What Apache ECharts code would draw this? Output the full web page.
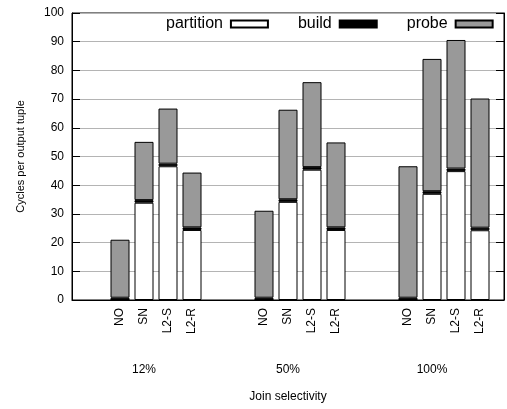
<!DOCTYPE html>
<html>
<head>
<meta charset="utf-8">
<script src="https://cdn.jsdelivr.net/npm/echarts@6/dist/echarts.min.js"></script>
<style>
  html, body { margin: 0; padding: 0; background: #fff; }
  #chart { width: 507px; height: 409px; }
</style>
</head>
<body>
<div id="chart"></div>
<script>
// Join strategies shown in each selectivity group
const strategies = ['NO', 'SN', 'L2-S', 'L2-R'];
const selectivities = ['12%', '50%', '100%'];

// Cycles per output tuple, one entry per (selectivity, strategy)
const partitionCycles = [0, 33.9, 46.6, 24.4,   0, 34.2, 45.4, 24.4,   0, 37.0, 44.9, 24.3];
const buildCycles     = [0.8, 0.9, 0.9, 0.9,    0.8, 0.9, 0.9, 0.9,    0.8, 0.9, 0.9, 0.9];
const probeCycles     = [20.2, 20.3, 19.2, 19.1, 30.3, 31.2, 29.6, 29.6, 45.8, 46.1, 44.8, 45.0];

const yTicks = [0, 10, 20, 30, 40, 50, 60, 70, 80, 90, 100];

// The x axis is a row of slots: 2 leading empty slots, then per group
// 4 bars followed by a 2-slot gap (the last gap is cut to 1 slot).
const LEAD = 2, GAP = 2;
const SLOTS_PER_GROUP = strategies.length + GAP;
const slotCount = LEAD + selectivities.length * SLOTS_PER_GROUP - 1;
const slotOf = (i) => LEAD + Math.floor(i / strategies.length) * SLOTS_PER_GROUP + (i % strategies.length);

const slotNames = new Array(slotCount).fill('');
const groupNames = new Array(slotCount).fill('');
selectivities.forEach((sel, g) => {
  strategies.forEach((s, c) => { slotNames[slotOf(g * strategies.length + c)] = s; });
  groupNames[slotOf(g * strategies.length) + 1] = sel;
});
const slotKeys = slotNames.map((_, i) => 'slot' + i);

const toSlots = (vals) => {
  const out = new Array(slotCount).fill('-');
  vals.forEach((v, i) => { out[slotOf(i)] = v; });
  return out;
};

const FONT = 'Liberation Sans, Arial, sans-serif';
const edge = { borderColor: '#000', borderWidth: 1 };

const chart = echarts.init(document.getElementById('chart'), null, { renderer: 'canvas' });

chart.setOption({
  animation: false,
  backgroundColor: '#fff',
  textStyle: { fontFamily: FONT, color: '#000' },
  grid: {
    left: 72, top: 13, bottom: 109, right: -6,
    show: true, borderColor: '#000', borderWidth: 1, backgroundColor: 'transparent'
  },
  legend: {
    data: ['partition', 'build', 'probe'],
    left: 161, top: 11,
    align: 'right',
    icon: 'rect',
    itemWidth: 37, itemHeight: 7,
    itemGap: 29,
    textStyle: { fontFamily: FONT, fontSize: 16, color: '#000', padding: [0, 3, 0, 0] }
  },
  xAxis: [
    {
      type: 'category',
      data: slotKeys,
      boundaryGap: false,
      axisLine: { lineStyle: { color: '#000', width: 1 } },
      axisTick: { show: false },
      splitLine: { show: false },
      axisLabel: {
        interval: 0, rotate: 90, margin: 8, fontSize: 12, color: '#000', fontFamily: FONT,
        formatter: (v, i) => slotNames[i]
      }
    },
    {
      type: 'category',
      data: slotKeys,
      boundaryGap: false,
      position: 'bottom',
      axisLine: { show: false },
      axisTick: { show: false },
      splitLine: { show: false },
      axisLabel: {
        interval: 0, margin: 64, fontSize: 12, color: '#000', fontFamily: FONT,
        formatter: (v, i) => groupNames[i]
      },
      name: 'Join selectivity',
      nameLocation: 'middle',
      nameGap: 91,
      nameTextStyle: { fontSize: 12, color: '#000', fontFamily: FONT }
    }
  ],
  yAxis: [
    {
      type: 'value',
      min: yTicks[0], max: yTicks[yTicks.length - 1], interval: yTicks[1] - yTicks[0],
      axisLine: { show: true, onZero: false, lineStyle: { color: '#000', width: 1 } },
      axisTick: { show: true, inside: true, length: 8, lineStyle: { color: '#000' } },
      splitLine: { show: true, lineStyle: { color: '#b4b4b4', width: 1 } },
      axisLabel: { margin: 8, fontSize: 12, color: '#000', fontFamily: FONT },
      name: 'Cycles per output tuple',
      nameLocation: 'middle',
      nameGap: 46,
      nameTextStyle: { fontSize: 11, color: '#000', fontFamily: FONT }
    },
    {
      type: 'value',
      position: 'right',
      min: yTicks[0], max: yTicks[yTicks.length - 1], interval: yTicks[1] - yTicks[0],
      axisLine: { show: true, onZero: false, lineStyle: { color: '#000', width: 1 } },
      axisTick: { show: true, inside: true, length: 8, lineStyle: { color: '#000' } },
      splitLine: { show: false },
      axisLabel: { show: false }
    }
  ],
  series: [
    {
      name: 'partition', type: 'bar', stack: 'cycles', barWidth: 19,
      itemStyle: Object.assign({ color: '#ffffff' }, edge),
      data: toSlots(partitionCycles)
    },
    {
      name: 'build', type: 'bar', stack: 'cycles', barWidth: 19,
      itemStyle: Object.assign({ color: '#000000' }, edge),
      data: toSlots(buildCycles)
    },
    {
      name: 'probe', type: 'bar', stack: 'cycles', barWidth: 19,
      itemStyle: Object.assign({ color: '#999999' }, edge),
      data: toSlots(probeCycles)
    }
  ]
});
</script>
</body>
</html>
